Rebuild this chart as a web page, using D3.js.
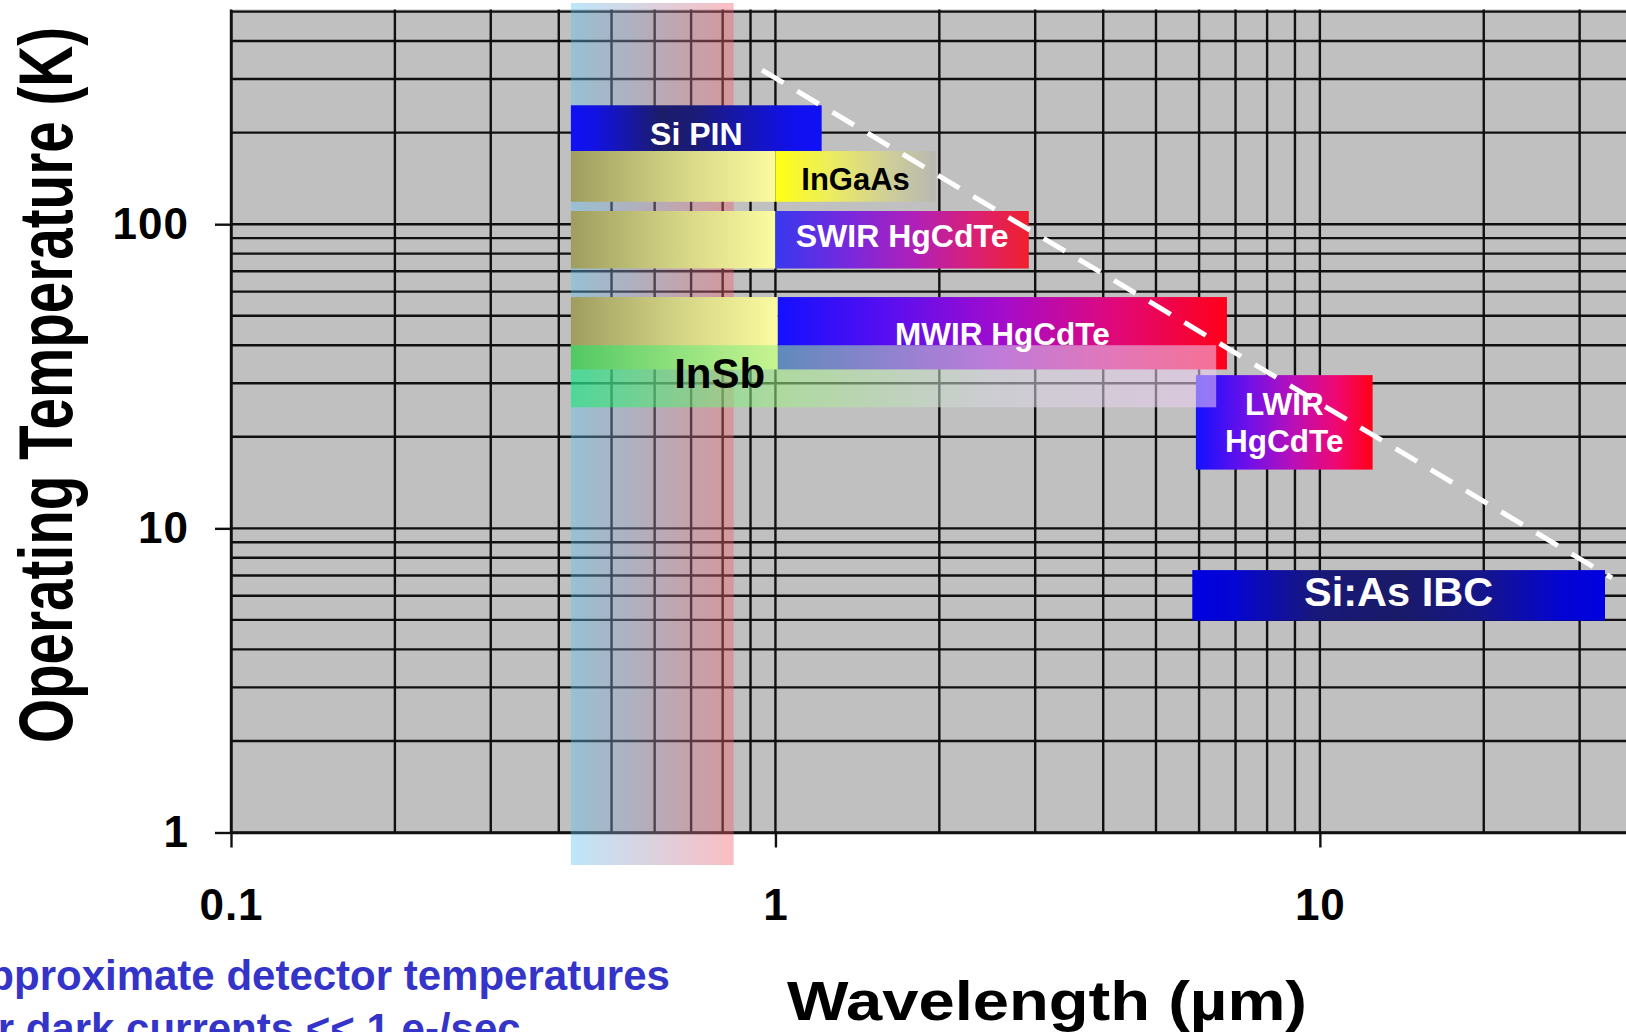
<!DOCTYPE html>
<html>
<head>
<meta charset="utf-8">
<title>Detector operating temperature vs wavelength</title>
<script src="https://cdn.jsdelivr.net/npm/d3@7"></script>
<style>
  html, body { margin: 0; padding: 0; background: #ffffff; }
  svg { display: block; }
  text { font-family: "Liberation Sans", Arial, Helvetica, sans-serif; }
</style>
</head>
<body>
<svg id="chart" width="1626" height="1032"></svg>
<script>
// Detector families: wavelength coverage (µm) and operating temperature band (K)
const detectors = ["Si PIN", "InGaAs", "SWIR HgCdTe", "MWIR HgCdTe", "LWIR HgCdTe", "Si:As IBC", "InSb"];
const waveMin   = [0.421, 1.0,   1.0,   1.01, 5.92, 5.83, 0.421];
const waveMax   = [1.216, 1.97,  2.92,  6.75, 12.5, 33.4, 6.45];
const tempMin   = [174,   118.5, 71.5,  33.3, 15.6, 4.97, 25];
const tempMax   = [246,   174,   110.5, 57.6, 31.9, 7.29, 40];

// Arrays whose response is extended down into the visible band
const extended = ["InGaAs", "SWIR HgCdTe", "MWIR HgCdTe"];

// Visible light band (µm)
const visibleBand = [0.421, 0.838];

// Dark-current boundary guide: [wavelength µm, temperature K]
const boundary = [[0.945, 321], [34.4, 6.87]];

// Axis ticks
const xTickValues = [0.1, 1, 10];
const xTickLabels = ["0.1", "1", "10"];
const yTickValues = [1, 10, 100];
const yTickLabels = ["1", "10", "100"];

// Text
const xTitle = "Wavelength (µm)";
const yTitle = "Operating Temperature (K)";
const noteLines = ["Approximate detector temperatures", "for dark currents << 1 e-/sec"];

// ---------------------------------------------------------------------------
const W = 1626, H = 1032;
const svg = d3.select("#chart");
const defs = svg.append("defs");

const x = d3.scaleLog().domain([0.1, 36.5]).range([231, W]);
const y = d3.scaleLog().domain([1, 508]).range([832.5, 9.5]);

function addGradient(id, stops, opacity = 1) {
  const g = defs.append("linearGradient").attr("id", id)
    .attr("x1", "0").attr("x2", "1").attr("y1", "0").attr("y2", "0");
  stops.forEach(([o, c, op]) => g.append("stop")
    .attr("offset", o).attr("stop-color", c)
    .attr("stop-opacity", op === undefined ? opacity : op));
}

addGradient("gVisible", [[0, "rgb(92,192,242)"], [1, "rgb(242,92,105)"]], 0.4);
addGradient("gExt", [[0, "#9f9d5f"], [0.5, "#d2d284"], [1, "#fbfba0"]]);
addGradient("gSiPin", [[0, "#1010f4"], [0.1, "#1212e2"], [0.36, "#1c1c6a"], [0.5, "#1b1b78"],
                       [0.75, "#1414c4"], [0.9, "#1010f0"], [1, "#1010f4"]]);
addGradient("gInGaAs", [[0, "#ffff14"], [0.35, "#ecec60"], [0.7, "#cfcf98"], [1, "#b8b8b2"]]);
addGradient("gSwir", [[0, "#3838ee"], [0.3, "#7a28dc"], [0.55, "#b020b8"], [0.8, "#dc2070"], [1, "#f0202c"]]);
addGradient("gMwir", [[0, "#1410ff"], [0.25, "#5a0ef0"], [0.5, "#a40ccc"], [0.75, "#e0087a"], [1, "#ff0018"]]);
addGradient("gLwir", [[0, "#1410ff"], [0.3, "#7010e8"], [0.55, "#b810b8"], [0.8, "#f00870"], [1, "#ff0018"]]);
addGradient("gSiAs", [[0, "#0000e0"], [0.1, "#0505d4"], [0.3, "#18187a"], [0.5, "#1a1a68"],
                      [0.7, "#15158a"], [0.9, "#0404d4"], [1, "#0000e0"]]);
addGradient("gInSb", [[0, "rgb(17,235,105)"], [0.32, "rgb(158,238,131)"],
                      [0.65, "rgb(215,215,225)"], [1, "rgb(240,205,245)"]], 0.55);

const fillOf = {
  "Si PIN": "url(#gSiPin)", "InGaAs": "url(#gInGaAs)", "SWIR HgCdTe": "url(#gSwir)",
  "MWIR HgCdTe": "url(#gMwir)", "LWIR HgCdTe": "url(#gLwir)", "Si:As IBC": "url(#gSiAs)",
  "InSb": "url(#gInSb)"
};

// Plot background
const [x0, x1] = x.range();
const [yBot, yTop] = y.range();
svg.append("rect").attr("x", x0).attr("y", yTop)
  .attr("width", x1 - x0).attr("height", yBot - yTop).attr("fill", "#c0c0c0");

// Grid
const grid = svg.append("g").attr("stroke", "#101010").attr("stroke-width", 2.4);
grid.selectAll("line.v").data(x.ticks()).join("line").attr("class", "v")
  .attr("x1", d => x(d)).attr("x2", d => x(d)).attr("y1", yTop).attr("y2", yBot);
grid.selectAll("line.h").data(y.ticks()).join("line").attr("class", "h")
  .attr("y1", d => y(d)).attr("y2", d => y(d)).attr("x1", x0).attr("x2", x1);

// Axes
const yAxis = d3.axisLeft(y).tickValues(yTickValues)
  .tickFormat((d, i) => yTickLabels[i]).tickSize(16).tickSizeOuter(0).tickPadding(26);
const xAxis = d3.axisBottom(x).tickValues(xTickValues)
  .tickFormat((d, i) => xTickLabels[i]).tickSize(15).tickSizeOuter(0).tickPadding(41);

function styleAxis(g) {
  g.attr("font-family", null).attr("font-size", null);
  g.selectAll("path.domain").attr("stroke", "#101010").attr("stroke-width", 2.4);
  g.selectAll(".tick line").attr("stroke", "#101010").attr("stroke-width", 2.4);
  g.selectAll(".tick text").attr("fill", "#000").attr("font-size", 44)
    .attr("font-weight", "bold").attr("letter-spacing", 1);
}
svg.append("g").attr("transform", `translate(${x0},0)`).call(yAxis).call(styleAxis);
svg.append("g").attr("transform", `translate(0,${yBot})`).call(xAxis).call(styleAxis);

// Visible band
svg.append("rect")
  .attr("x", x(visibleBand[0])).attr("width", x(visibleBand[1]) - x(visibleBand[0]))
  .attr("y", yTop - 6.5).attr("height", (yBot + 32.5) - (yTop - 6.5))
  .attr("fill", "url(#gVisible)");

// Detector bands
const rows = detectors.map((name, i) => ({
  name, lo: waveMin[i], hi: waveMax[i], tLo: tempMin[i], tHi: tempMax[i]
}));

const bars = svg.append("g");
rows.forEach(r => {
  if (extended.includes(r.name)) {
    bars.append("rect")
      .attr("x", x(visibleBand[0])).attr("width", x(r.lo) - x(visibleBand[0]))
      .attr("y", y(r.tHi)).attr("height", y(r.tLo) - y(r.tHi))
      .attr("fill", "url(#gExt)");
  }
  bars.append("rect")
    .attr("x", x(r.lo)).attr("width", x(r.hi) - x(r.lo))
    .attr("y", y(r.tHi)).attr("height", y(r.tLo) - y(r.tHi))
    .attr("fill", fillOf[r.name]);
});

// Band labels
const labelLines = { "LWIR HgCdTe": ["LWIR", "HgCdTe"] };
const labelLook = {
  "Si PIN":      { color: "#fff", size: 32,   dy: 5.5 },
  "InGaAs":      { color: "#000", size: 31,   dy: 3 },
  "SWIR HgCdTe": { color: "#fff", size: 32,   dy: -4 },
  "MWIR HgCdTe": { color: "#fff", size: 31.5, dy: 0.5 },
  "LWIR HgCdTe": { color: "#fff", size: 31.5, dy: 0, gap: 37.7 },
  "Si:As IBC":   { color: "#fff", size: 41.5, dy: -4.5 },
  "InSb":        { color: "#000", size: 42,   dy: -3, at: 0.79 }
};
const labels = svg.append("g").attr("font-weight", "bold").attr("text-anchor", "middle");
rows.forEach(r => {
  const look = labelLook[r.name];
  const lines = labelLines[r.name] || [r.name];
  const cx = look.at ? x(look.at) : (x(r.lo) + x(r.hi)) / 2;
  const cy = (y(r.tLo) + y(r.tHi)) / 2 + look.dy;
  const cap = 0.716 * look.size;
  const gap = look.gap || 0;
  lines.forEach((t, k) => {
    labels.append("text")
      .attr("x", cx)
      .attr("y", cy + cap / 2 + (k - (lines.length - 1) / 2) * gap)
      .attr("fill", look.color).attr("font-size", look.size)
      .text(t);
  });
});

// Boundary guide
svg.append("path").datum(boundary)
  .attr("d", d3.line().x(d => x(d[0])).y(d => y(d[1])))
  .attr("fill", "none").attr("stroke", "#ffffff").attr("stroke-width", 5)
  .attr("stroke-dasharray", "25,16");

// Axis titles
svg.append("text")
  .attr("x", 787).attr("y", 1020)
  .attr("font-size", 55).attr("font-weight", "bold").attr("fill", "#000")
  .attr("textLength", 520).attr("lengthAdjust", "spacingAndGlyphs")
  .text(xTitle);

svg.append("text")
  .attr("transform", "translate(72,385) rotate(-90)")
  .attr("text-anchor", "middle")
  .attr("font-size", 76).attr("font-weight", "bold").attr("fill", "#000")
  .attr("textLength", 716).attr("lengthAdjust", "spacingAndGlyphs")
  .text(yTitle);

// Note
svg.append("g").selectAll("text").data(noteLines).join("text")
  .attr("x", -42).attr("y", (d, i) => 990 + i * 53)
  .attr("font-size", 42).attr("font-weight", "bold").attr("fill", "#3434c8")
  .text(d => d);
</script>
</body>
</html>
